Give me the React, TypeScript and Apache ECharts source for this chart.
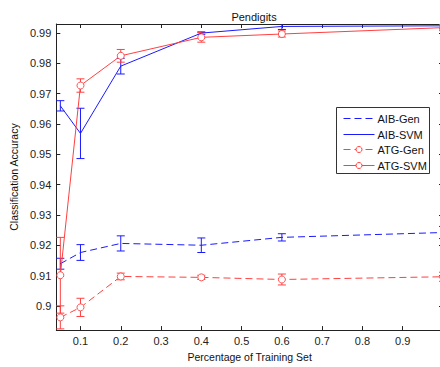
import React, { useEffect, useRef } from "react";
import * as echarts from "echarts";

// Training-set fractions (x) and mean accuracies with ± error half-widths
const fractions = [0.05, 0.1, 0.2, 0.4, 0.6, 1.0];

const aibGen = [0.9139, 0.9176, 0.9206, 0.92, 0.9226, 0.9242];
const aibGenErr = [0.0018, 0.0026, 0.0025, 0.0024, 0.0012, 0.002];

const aibSvm = [0.966, 0.9569, 0.9791, 0.99, 0.9922, 0.9924];
const aibSvmErr = [0.0017, 0.0083, 0.0026, 0.0004, 0.001, 0.001];

const atgGen = [0.8962, 0.8995, 0.9097, 0.9094, 0.9087, 0.9096];
const atgGenErr = [0.0038, 0.003, 0.0011, 0.0007, 0.0018, 0.0015];

const atgSvm = [0.9101, 0.9727, 0.9825, 0.9886, 0.9897, 0.9918];
const atgSvmErr = [0.0125, 0.0022, 0.0021, 0.0016, 0.001, 0.001];

const xTicks = [0.1, 0.2, 0.3, 0.4, 0.5, 0.6, 0.7, 0.8, 0.9];
const yTicks = [0.9, 0.91, 0.92, 0.93, 0.94, 0.95, 0.96, 0.97, 0.98, 0.99];

const legendNames = ["AIB-Gen", "AIB-SVM", "ATG-Gen", "ATG-SVM"];

const BLUE = "#1a1aff";
const RED = "#ff4040";
const FONT = "Liberation Sans, Arial, sans-serif";

const pairs = (ys: number[]) => fractions.map((x, i) => [x, ys[i]]);
const bars = (ys: number[], err: number[]) =>
  fractions.map((x, i) => [x, ys[i] - err[i], ys[i] + err[i]]);

function errorBarSeries(ys: number[], err: number[], color: string) {
  return {
    type: "custom",
    data: bars(ys, err),
    encode: { x: 0, y: [1, 2] },
    clip: true,
    silent: true,
    z: 3,
    renderItem: (_params: any, api: any) => {
      const x = api.value(0);
      const lo = api.coord([x, api.value(1)]);
      const hi = api.coord([x, api.value(2)]);
      const hw = 4;
      const style = { stroke: color, lineWidth: 1, fill: "none" };
      return {
        type: "group",
        children: [
          { type: "line", shape: { x1: lo[0], y1: lo[1], x2: hi[0], y2: hi[1] }, style },
          { type: "line", shape: { x1: lo[0] - hw, y1: lo[1], x2: lo[0] + hw, y2: lo[1] }, style },
          { type: "line", shape: { x1: hi[0] - hw, y1: hi[1], x2: hi[0] + hw, y2: hi[1] }, style },
        ],
      };
    },
  };
}

// Boxed legend: line sample (dashed or solid, with optional circle) plus label
function legendGraphic() {
  const styles = [
    { color: BLUE, dash: [7, 4], circle: false },
    { color: BLUE, dash: null, circle: false },
    { color: RED, dash: [7, 4], circle: true },
    { color: RED, dash: null, circle: true },
  ];
  const rowY = [11, 27, 42, 58];
  const children: any[] = [
    {
      type: "rect",
      shape: { x: 0, y: 0, width: 93, height: 66 },
      style: { fill: "#fff", stroke: "#333", lineWidth: 1 },
    },
  ];
  legendNames.forEach((name, i) => {
    const s = styles[i];
    const y = rowY[i];
    children.push({
      type: "line",
      shape: { x1: 7, y1: y, x2: 38, y2: y },
      style: { stroke: s.color, lineWidth: 1, lineDash: s.dash || undefined },
    });
    if (s.circle) {
      children.push({
        type: "circle",
        shape: { cx: 22.5, cy: y, r: 3 },
        style: { fill: "#fff", stroke: s.color, lineWidth: 1 },
      });
    }
    children.push({
      type: "text",
      x: 41,
      y,
      style: { text: name, fill: "#111", font: `11px ${FONT}`, verticalAlign: "middle" },
    });
  });
  return { type: "group", left: 336, top: 107, z: 10, children };
}

export default function App() {
  const ref = useRef<HTMLDivElement>(null);

  useEffect(() => {
    if (!ref.current) return;
    const chart = echarts.init(ref.current, undefined, { renderer: "svg" });

    const axisLine = { show: true, lineStyle: { color: "#222", width: 1 } };
    const labelStyle = { color: "#222", fontSize: 11, fontFamily: FONT };
    const fmt = (v: number) => String(Number(v.toFixed(2)));
    const circleStyle = { color: "#fff", borderColor: RED, borderWidth: 0.9 };

    chart.setOption({
      animation: false,
      backgroundColor: "#fff",
      textStyle: { fontFamily: FONT },
      title: {
        text: "Pendigits",
        left: 249,
        top: 6,
        textAlign: "center",
        textStyle: { fontSize: 11, fontWeight: "normal", color: "#111", fontFamily: FONT },
      },
      graphic: [legendGraphic()],
      grid: { left: 55, top: 24, width: 388, height: 310, containLabel: false },
      xAxis: [
        {
          type: "value",
          min: 0.04,
          max: 1.0,
          position: "bottom",
          name: "Percentage of Training Set",
          nameLocation: "middle",
          nameGap: 18,
          nameTextStyle: { fontSize: 10.5, color: "#111", fontFamily: FONT },
          axisLine,
          axisTick: { show: true, inside: true, length: 4, customValues: xTicks, lineStyle: { color: "#222" } },
          axisLabel: { ...labelStyle, margin: 5, customValues: xTicks, formatter: fmt },
          splitLine: { show: false },
        },
        {
          type: "value",
          min: 0.04,
          max: 1.0,
          position: "top",
          axisLine,
          axisTick: { show: true, inside: true, length: 4, customValues: xTicks, lineStyle: { color: "#222" } },
          axisLabel: { show: false },
          splitLine: { show: false },
        },
      ],
      yAxis: [
        {
          type: "value",
          min: 0.892,
          max: 0.993,
          position: "left",
          name: "Classification Accuracy",
          nameLocation: "middle",
          nameGap: 28,
          nameTextStyle: { fontSize: 10.5, color: "#111", fontFamily: FONT },
          axisLine,
          axisTick: { show: true, inside: true, length: 4, customValues: yTicks, lineStyle: { color: "#222" } },
          axisLabel: { ...labelStyle, margin: 5, customValues: yTicks, formatter: fmt },
          splitLine: { show: false },
        },
        {
          type: "value",
          min: 0.892,
          max: 0.993,
          position: "right",
          axisLine,
          axisTick: { show: true, inside: true, length: 4, customValues: yTicks, lineStyle: { color: "#222" } },
          axisLabel: { show: false },
          splitLine: { show: false },
        },
      ],
      series: [
        {
          name: "AIB-Gen",
          type: "line",
          data: pairs(aibGen),
          symbol: "none",
          lineStyle: { color: BLUE, width: 1, type: [7, 4] },
          itemStyle: { color: BLUE },
          z: 4,
        },
        {
          name: "AIB-SVM",
          type: "line",
          data: pairs(aibSvm),
          symbol: "none",
          lineStyle: { color: BLUE, width: 1, type: "solid" },
          itemStyle: { color: BLUE },
          z: 4,
        },
        {
          name: "ATG-Gen",
          type: "line",
          data: pairs(atgGen),
          symbol: "circle",
          symbolSize: 7,
          lineStyle: { color: RED, width: 1, type: [7, 4] },
          itemStyle: circleStyle,
          z: 4,
        },
        {
          name: "ATG-SVM",
          type: "line",
          data: pairs(atgSvm),
          symbol: "circle",
          symbolSize: 7,
          lineStyle: { color: RED, width: 1, type: "solid" },
          itemStyle: circleStyle,
          z: 4,
        },
        errorBarSeries(aibGen, aibGenErr, BLUE),
        errorBarSeries(aibSvm, aibSvmErr, BLUE),
        errorBarSeries(atgGen, atgGenErr, RED),
        errorBarSeries(atgSvm, atgSvmErr, RED),
      ],
    });

    return () => chart.dispose();
  }, []);

  return (
    <div
      ref={ref}
      style={{ position: "fixed", left: 0, top: 0, width: 445, height: 367, background: "#fff" }}
    />
  );
}
